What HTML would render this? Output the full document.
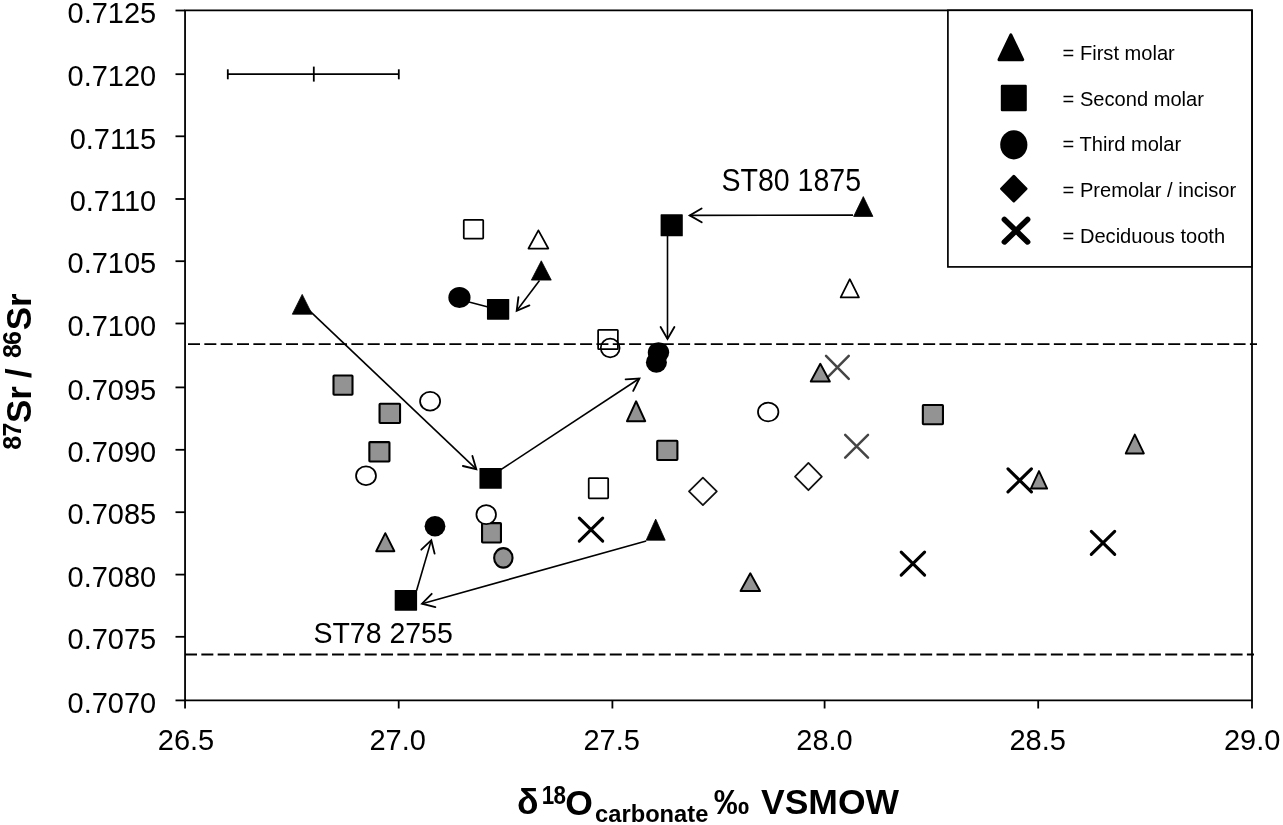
<!DOCTYPE html>
<html><head><meta charset="utf-8"><style>
html,body{margin:0;padding:0;background:#fff;}
svg{display:block;filter:grayscale(1) blur(0.3px);}
.k{stroke:#000;stroke-width:1.8;}
.a{stroke-width:1.6px;}
.ah{stroke-width:1.85px;stroke-linecap:round;}
text{font-family:"Liberation Sans",sans-serif;fill:#000;}
.ax{font-size:29px;}
.ann{font-size:30.5px;}
.lg{font-size:20.1px;}
.tt{font-size:35.5px;font-weight:bold;}
.ys{font-size:35px;}
.sup{font-size:25px;letter-spacing:-0.8px;}
.sub{font-size:24px;}
</style></head><body>
<svg width="1283" height="825" viewBox="0 0 1283 825">
<rect width="1283" height="825" fill="#fff"/>
<line x1="175.5" y1="10.5" x2="185.05" y2="10.5" class="k"/>
<text transform="translate(156.2,22.7) scale(1,1.035)" class="ax" text-anchor="end">0.7125</text>
<line x1="175.5" y1="74.2" x2="185.05" y2="74.2" class="k"/>
<text transform="translate(156.2,86.4) scale(1,1.035)" class="ax" text-anchor="end">0.7120</text>
<line x1="175.5" y1="136.3" x2="185.05" y2="136.3" class="k"/>
<text transform="translate(156.2,148.5) scale(1,1.035)" class="ax" text-anchor="end">0.7115</text>
<line x1="175.5" y1="199.0" x2="185.05" y2="199.0" class="k"/>
<text transform="translate(156.2,211.2) scale(1,1.035)" class="ax" text-anchor="end">0.7110</text>
<line x1="175.5" y1="261.2" x2="185.05" y2="261.2" class="k"/>
<text transform="translate(156.2,273.4) scale(1,1.035)" class="ax" text-anchor="end">0.7105</text>
<line x1="175.5" y1="323.5" x2="185.05" y2="323.5" class="k"/>
<text transform="translate(156.2,335.7) scale(1,1.035)" class="ax" text-anchor="end">0.7100</text>
<line x1="175.5" y1="387.4" x2="185.05" y2="387.4" class="k"/>
<text transform="translate(156.2,399.6) scale(1,1.035)" class="ax" text-anchor="end">0.7095</text>
<line x1="175.5" y1="449.8" x2="185.05" y2="449.8" class="k"/>
<text transform="translate(156.2,462.0) scale(1,1.035)" class="ax" text-anchor="end">0.7090</text>
<line x1="175.5" y1="512.2" x2="185.05" y2="512.2" class="k"/>
<text transform="translate(156.2,524.4) scale(1,1.035)" class="ax" text-anchor="end">0.7085</text>
<line x1="175.5" y1="574.6" x2="185.05" y2="574.6" class="k"/>
<text transform="translate(156.2,586.8) scale(1,1.035)" class="ax" text-anchor="end">0.7080</text>
<line x1="175.5" y1="636.8" x2="185.05" y2="636.8" class="k"/>
<text transform="translate(156.2,649.0) scale(1,1.035)" class="ax" text-anchor="end">0.7075</text>
<line x1="175.5" y1="700.4" x2="185.05" y2="700.4" class="k"/>
<text transform="translate(156.2,712.6) scale(1,1.035)" class="ax" text-anchor="end">0.7070</text>
<line x1="185.05" y1="700.4" x2="185.05" y2="708.5" class="k"/>
<text transform="translate(186.0,750.4) scale(1,1.03)" class="ax" text-anchor="middle">26.5</text>
<line x1="398.7" y1="700.4" x2="398.7" y2="708.5" class="k"/>
<text transform="translate(397.6,750.4) scale(1,1.03)" class="ax" text-anchor="middle">27.0</text>
<line x1="612.4" y1="700.4" x2="612.4" y2="708.5" class="k"/>
<text transform="translate(611.7,750.4) scale(1,1.03)" class="ax" text-anchor="middle">27.5</text>
<line x1="824.6" y1="700.4" x2="824.6" y2="708.5" class="k"/>
<text transform="translate(824.5,750.4) scale(1,1.03)" class="ax" text-anchor="middle">28.0</text>
<line x1="1038.2" y1="700.4" x2="1038.2" y2="708.5" class="k"/>
<text transform="translate(1037.7,750.4) scale(1,1.03)" class="ax" text-anchor="middle">28.5</text>
<line x1="1252.0" y1="700.4" x2="1252.0" y2="708.5" class="k"/>
<text transform="translate(1252.1,750.4) scale(1,1.03)" class="ax" text-anchor="middle">29.0</text>
<path d="M185.05 10.4 H1252.0 V700.4 H185.05 Z" class="k" fill="none"/>
<line x1="227.8" y1="74.2" x2="398.8" y2="74.2" class="k"/>
<line x1="227.8" y1="69.3" x2="227.8" y2="79.3" class="k"/>
<line x1="398.8" y1="69.3" x2="398.8" y2="79.3" class="k"/>
<line x1="313.8" y1="66.6" x2="313.8" y2="81.6" class="k"/>
<path d="M826.03 355.78 L848.77 378.82 M848.77 355.78 L826.03 378.82" stroke="#454545" stroke-width="2.5" stroke-linecap="round" fill="none"/>
<path d="M845.18 434.78 L868.02 457.62 M868.02 434.78 L845.18 457.62" stroke="#454545" stroke-width="2.5" stroke-linecap="round" fill="none"/>
<rect x="333.50" y="375.45" width="19.00" height="19.30" rx="0.7" fill="#939393" stroke="#000" stroke-width="2.1"/>
<rect x="379.55" y="403.75" width="20.50" height="19.30" rx="0.7" fill="#939393" stroke="#000" stroke-width="2.1"/>
<rect x="369.35" y="442.15" width="20.10" height="19.30" rx="0.7" fill="#939393" stroke="#000" stroke-width="2.1"/>
<rect x="482.05" y="523.15" width="18.90" height="19.30" rx="0.7" fill="#939393" stroke="#000" stroke-width="2.1"/>
<rect x="657.20" y="440.75" width="20.20" height="19.30" rx="0.7" fill="#939393" stroke="#000" stroke-width="2.1"/>
<rect x="922.85" y="405.00" width="20.10" height="19.30" rx="0.7" fill="#939393" stroke="#000" stroke-width="2.1"/>
<ellipse cx="503.35" cy="557.9" rx="9.20" ry="9.75" fill="#939393" stroke="#000" stroke-width="2.1"/>
<path d="M385.3 533.15 L394.40 551.25 L376.20 551.25 Z" fill="#939393" stroke="#000" stroke-width="1.9" stroke-linejoin="round"/>
<path d="M636.1 401.25 L645.25 421.25 L626.95 421.25 Z" fill="#939393" stroke="#000" stroke-width="1.9" stroke-linejoin="round"/>
<path d="M820.3 363.75 L829.85 381.55 L810.75 381.55 Z" fill="#939393" stroke="#000" stroke-width="1.9" stroke-linejoin="round"/>
<path d="M750.3 573.25 L760.05 591.05 L740.55 591.05 Z" fill="#939393" stroke="#000" stroke-width="1.9" stroke-linejoin="round"/>
<path d="M1039.0 471.05 L1047.15 488.55 L1030.85 488.55 Z" fill="#939393" stroke="#000" stroke-width="1.9" stroke-linejoin="round"/>
<path d="M1134.8 434.55 L1143.85 453.45 L1125.75 453.45 Z" fill="#939393" stroke="#000" stroke-width="1.9" stroke-linejoin="round"/>
<ellipse cx="610.2" cy="348.0" rx="9.43" ry="9.32" fill="#fff" stroke="#000" stroke-width="1.75"/>
<ellipse cx="430.1" cy="401.2" rx="10.03" ry="9.32" fill="#fff" stroke="#000" stroke-width="1.75"/>
<ellipse cx="366.0" cy="475.7" rx="9.97" ry="9.32" fill="#fff" stroke="#000" stroke-width="1.75"/>
<ellipse cx="486.2" cy="514.6" rx="9.78" ry="9.53" fill="#fff" stroke="#000" stroke-width="1.75"/>
<ellipse cx="768.2" cy="412.0" rx="10.22" ry="9.38" fill="#fff" stroke="#000" stroke-width="1.75"/>
<rect x="463.77" y="219.88" width="19.45" height="18.65" rx="0.7" fill="none" stroke="#000" stroke-width="1.75"/>
<rect x="598.12" y="329.88" width="19.75" height="19.25" rx="0.7" fill="none" stroke="#000" stroke-width="1.75"/>
<rect x="588.73" y="478.07" width="19.45" height="20.25" rx="0.7" fill="none" stroke="#000" stroke-width="1.75"/>
<path d="M538.4 230.38 L548.32 248.53 L528.48 248.53 Z" fill="none" stroke="#000" stroke-width="1.75" stroke-linejoin="round"/>
<path d="M849.8 279.18 L858.92 297.43 L840.67 297.43 Z" fill="none" stroke="#000" stroke-width="1.75" stroke-linejoin="round"/>
<path d="M702.9 477.67 L716.82 491.4 L702.9 505.12 L688.98 491.4 Z" fill="none" stroke="#111" stroke-width="1.75" stroke-linejoin="round"/>
<path d="M808.4 462.98 L821.82 476.6 L808.4 490.23 L794.98 476.6 Z" fill="none" stroke="#111" stroke-width="1.75" stroke-linejoin="round"/>
<line x1="188" y1="344.2" x2="1257" y2="344.2" class="k" stroke-dasharray="12 4.337"/>
<line x1="185" y1="654.5" x2="1254" y2="654.5" class="k" stroke-dasharray="12 4.337"/>
<line x1="306" y1="307.4" x2="476.3" y2="469.2" class="k a"/><polyline points="472.4,456.0 476.3,469.2 462.9,466.0" class="k ah" fill="none"/>
<line x1="500.5" y1="469.9" x2="639.4" y2="378.5" class="k a"/><polyline points="625.6,379.3 639.4,378.5 633.2,390.8" class="k ah" fill="none"/>
<line x1="853" y1="215.1" x2="689.7" y2="215.4" class="k a"/><polyline points="701.7,222.3 689.7,215.4 701.6,208.5" class="k ah" fill="none"/>
<line x1="667.5" y1="236" x2="667.5" y2="339.0" class="k a"/><polyline points="674.4,327.0 667.5,339.0 660.6,327.0" class="k ah" fill="none"/>
<line x1="539.5" y1="280.5" x2="516.7" y2="310.8" class="k a"/><polyline points="529.4,305.4 516.7,310.8 518.4,297.1" class="k ah" fill="none"/>
<line x1="646.2" y1="541.0" x2="422.0" y2="603.7" class="k a"/><polyline points="435.4,607.1 422.0,603.7 431.7,593.8" class="k ah" fill="none"/>
<line x1="416.6" y1="590.5" x2="431.3" y2="540.2" class="k a"/><polyline points="421.3,549.7 431.3,540.2 434.6,553.6" class="k ah" fill="none"/>
<line x1="459.4" y1="299.4" x2="490" y2="307.6" class="k a"/>
<path d="M579.30 518.05 L602.70 541.15 M602.70 518.05 L579.30 541.15" stroke="#000" stroke-width="3.1" stroke-linecap="round" fill="none"/>
<path d="M901.20 552.05 L924.60 575.15 M924.60 552.05 L901.20 575.15" stroke="#000" stroke-width="3.1" stroke-linecap="round" fill="none"/>
<path d="M1008.00 468.85 L1031.40 491.95 M1031.40 468.85 L1008.00 491.95" stroke="#000" stroke-width="3.1" stroke-linecap="round" fill="none"/>
<path d="M1091.30 531.35 L1114.70 554.45 M1114.70 531.35 L1091.30 554.45" stroke="#000" stroke-width="3.1" stroke-linecap="round" fill="none"/>
<rect x="486.95" y="298.95" width="22.3" height="20.7" rx="0.6" fill="#000"/>
<rect x="660.60" y="214.30" width="22.2" height="22.0" rx="0.6" fill="#000"/>
<rect x="479.45" y="468.00" width="22.3" height="20.8" rx="0.6" fill="#000"/>
<rect x="394.70" y="589.95" width="22.4" height="20.7" rx="0.6" fill="#000"/>
<ellipse cx="459.45" cy="297.5" rx="11.1" ry="10.5" fill="#000"/>
<ellipse cx="658.5" cy="352.6" rx="10.7" ry="10.3" fill="#000"/>
<ellipse cx="656.4" cy="362.4" rx="10.5" ry="10.4" fill="#000"/>
<ellipse cx="435.0" cy="526.3" rx="10.4" ry="10.25" fill="#000"/>
<path d="M302.2 294.4 L312.1 314.20000000000005 L292.29999999999995 314.20000000000005 Z" fill="#000" stroke="#000" stroke-width="0.8" stroke-linejoin="round"/>
<path d="M541.3 260.79999999999995 L551.25 280.1 L531.3499999999999 280.1 Z" fill="#000" stroke="#000" stroke-width="0.8" stroke-linejoin="round"/>
<path d="M863.3 196.6 L872.9 216.4 L853.6999999999999 216.4 Z" fill="#000" stroke="#000" stroke-width="0.8" stroke-linejoin="round"/>
<path d="M655.7 519.1 L665.2 540.2 L646.2 540.2 Z" fill="#000" stroke="#000" stroke-width="0.8" stroke-linejoin="round"/>
<text x="721.5" y="190.6" class="ann" textLength="139.6" lengthAdjust="spacingAndGlyphs">ST80 1875</text>
<text x="313.4" y="643.4" class="ann" style="font-size:30px" textLength="139.4" lengthAdjust="spacingAndGlyphs">ST78 2755</text>
<rect x="947.9" y="10.3" width="304" height="256.6" fill="#fff" stroke="#000" stroke-width="1.7"/>
<path d="M1010.85 34.9 L1022.7 59.7 L999.0 59.7 Z" fill="#000" stroke="#000" stroke-width="3" stroke-linejoin="round"/>
<rect x="1000.8" y="84.7" width="26.0" height="26.6" rx="1.2" fill="#000"/>
<ellipse cx="1013.8" cy="144.8" rx="13.6" ry="14.6" fill="#000"/>
<path d="M1013.8 176.4 L1026.0 188.7 L1013.8 201.0 L1001.6 188.7 Z" fill="#000" stroke="#000" stroke-width="3" stroke-linejoin="round"/>
<path d="M1004.4 219.5 L1027.6 241.9 M1027.6 219.5 L1004.4 241.9" stroke="#000" stroke-width="5.6" stroke-linecap="round" fill="none"/>
<text x="1062.6" y="59.9" class="lg">= First molar</text>
<text x="1062.6" y="106.1" class="lg">= Second molar</text>
<text x="1062.6" y="151.4" class="lg">= Third molar</text>
<text x="1062.6" y="196.6" class="lg">= Premolar / incisor</text>
<text x="1062.6" y="242.6" class="lg">= Deciduous tooth</text>
<text x="517" y="814.2" class="tt">δ</text>
<text x="541.8" y="804.4" class="tt sup" textLength="23.5" lengthAdjust="spacingAndGlyphs">18</text>
<text x="565.3" y="814.5" class="tt">O</text>
<text x="595.1" y="821.5" class="tt" style="font-size:23.7px">carbonate</text>
<text x="713.7" y="814.3" class="tt">‰</text>
<text x="761" y="813.9" class="tt">VSMOW</text>
<g transform="translate(31,448.7) rotate(-90)"><text x="-1" y="-10.2" class="tt sup">87</text><text x="25.6" y="0" class="tt ys">Sr</text><text x="70.8" y="0" class="tt ys">/</text><text x="90.7" y="-10.2" class="tt sup">86</text><text x="118.4" y="0" class="tt ys">Sr</text></g>
</svg>
</body></html>
